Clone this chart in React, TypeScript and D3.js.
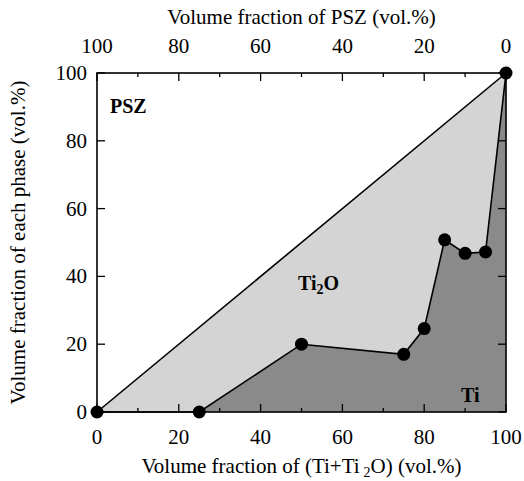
import React from "react";
import * as d3 from "d3";

// Ti phase boundary: volume fraction of (Ti+Ti2O) vs. Ti content
const tiFraction = [0, 25, 50, 75, 80, 85, 90, 95, 100];
const tiVolume = [0, 0, 20, 17, 24.6, 50.8, 46.8, 47.2, 100];
const majorTicks = [0, 20, 40, 60, 80, 100];
const minorTicks = [10, 30, 50, 70, 90];
const pszTickLabels = ["100", "80", "60", "40", "20", "0"];

const W = 524;
const H = 481;
const M = { left: 97, right: 506, top: 73, bottom: 412 };
const FONT = "Liberation Serif";

type TProps = {
  x?: number;
  y?: number;
  size: number;
  bold?: boolean;
  anchor?: "start" | "middle" | "end";
  transform?: string;
  children?: React.ReactNode;
};

function T({ x, y, size, bold = false, anchor = "start", transform, children }: TProps) {
  return (
    <text
      x={x}
      y={y}
      transform={transform}
      textAnchor={anchor}
      fontFamily={FONT}
      fontSize={size}
      fontWeight={bold ? "bold" : "normal"}
      fill="#000"
      style={{ fontFamily: "'Liberation Serif'", fontSize: size }}
    >
      {children}
    </text>
  );
}

export default function App() {
  const x = d3.scaleLinear().domain([0, 100]).range([M.left, M.right]);
  const y = d3.scaleLinear().domain([0, 100]).range([M.bottom, M.top]);
  const pts = tiFraction.map((v, i) => [v, tiVolume[i]] as [number, number]);

  const line = d3.line<[number, number]>().x((d) => x(d[0])).y((d) => y(d[1]));
  const tiArea = d3
    .area<[number, number]>()
    .x((d) => x(d[0]))
    .y0(y(0))
    .y1((d) => y(d[1]));
  const ti2oArea = d3
    .area<[number, number]>()
    .x((d) => x(d[0]))
    .y0((d) => y(d[1]))
    .y1((d) => y(d[0]));

  const majorLen = 8;
  const minorLen = 4;

  return (
    <svg width={W} height={H} style={{ position: "absolute", left: 0, top: 0 }}>
      <rect width={W} height={H} fill="#fff" />
      {/* Ti2O region between the diagonal and the Ti boundary */}
      <path d={ti2oArea(pts) ?? ""} fill="#d4d4d4" />
      {/* Ti region below the boundary */}
      <path d={tiArea(pts) ?? ""} fill="#8a8a8a" />
      {/* diagonal PSZ / (Ti+Ti2O) boundary */}
      <line x1={x(0)} y1={y(0)} x2={x(100)} y2={y(100)} stroke="#000" strokeWidth={1.6} />
      <path d={line(pts) ?? ""} fill="none" stroke="#000" strokeWidth={1.6} />

      {/* frame */}
      <rect
        x={M.left}
        y={M.top}
        width={M.right - M.left}
        height={M.bottom - M.top}
        fill="none"
        stroke="#000"
        strokeWidth={1.6}
      />

      {/* inward ticks on all four sides */}
      {majorTicks.concat(minorTicks).map((t) => {
        const len = majorTicks.includes(t) ? majorLen : minorLen;
        return (
          <g key={"t" + t} stroke="#000" strokeWidth={1.3}>
            <line x1={x(t)} x2={x(t)} y1={M.bottom} y2={M.bottom - len} />
            <line x1={x(t)} x2={x(t)} y1={M.top} y2={M.top + len} />
            {majorTicks.includes(t) && (
              <>
                <line y1={y(t)} y2={y(t)} x1={M.left} x2={M.left + len} />
                <line y1={y(t)} y2={y(t)} x1={M.right} x2={M.right - len} />
              </>
            )}
          </g>
        );
      })}

      {/* data markers */}
      {pts.map((d, i) => (
        <circle key={"p" + i} cx={x(d[0])} cy={y(d[1])} r={6.5} fill="#000" />
      ))}

      {/* bottom tick labels */}
      {majorTicks.map((t) => (
        <T key={"bx" + t} x={x(t)} y={444} anchor="middle" size={21}>
          {t}
        </T>
      ))}
      {/* top tick labels (PSZ fraction) */}
      {majorTicks.map((t, i) => (
        <T key={"tx" + t} x={x(t)} y={53} anchor="middle" size={21}>
          {pszTickLabels[i]}
        </T>
      ))}
      {/* left tick labels */}
      {majorTicks.map((t) => (
        <T key={"ly" + t} x={87} y={y(t) + 7} anchor="end" size={21}>
          {t}
        </T>
      ))}

      <T x={(M.left + M.right) / 2} y={24} anchor="middle" size={21}>
        Volume fraction of PSZ (vol.%)
      </T>
      <T x={(M.left + M.right) / 2} y={473} anchor="middle" size={21}>
        Volume fraction of (Ti+Ti
        <tspan dx={4} dy={4} style={{ fontSize: 14 }}>
          2
        </tspan>
        <tspan dy={-4}>O) (vol.%)</tspan>
      </T>
      <T
        transform={`translate(25, ${(M.top + M.bottom) / 2}) rotate(-90)`}
        anchor="middle"
        size={21}
      >
        Volume fraction of each phase (vol.%)
      </T>

      {/* phase labels */}
      <T x={110} y={113} size={20} bold>
        PSZ
      </T>
      <T x={298} y={290} size={20} bold>
        Ti
        <tspan dy={4} style={{ fontSize: 14 }}>
          2
        </tspan>
        <tspan dy={-4}>O</tspan>
      </T>
      <T x={461} y={402} size={20} bold>
        Ti
      </T>
    </svg>
  );
}
